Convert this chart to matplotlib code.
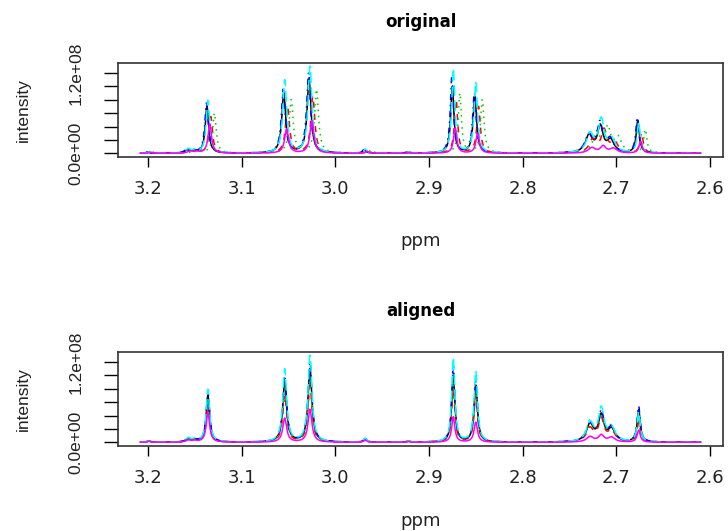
import matplotlib.pyplot as plt
import numpy as np

plt.close('all')

# PPM RANGE OF THE SPECTRA
ppm_first = 3.208
ppm_last = 2.610
ppm_step = 0.0004

# PEAKS (position in ppm, half width in ppm)
peak_ppm = [3.199, 3.157, 3.150, 3.136, 3.054, 3.027, 2.968, 2.922,
            2.874, 2.850, 2.728, 2.716, 2.705, 2.676]
peak_hw = [0.002, 0.003, 0.003, 0.0022, 0.0025, 0.0025, 0.002, 0.002,
           0.002, 0.0022, 0.0045, 0.0035, 0.0045, 0.002]

# PEAK HEIGHTS PER SAMPLE (1e7)
h_black = [0.2, 0.4, 0.3, 7.0, 9.0, 11.0, 0.5, 0.15, 10.0, 8.5, 2.6, 3.8, 1.8, 4.8]
h_red = [0.2, 0.4, 0.3, 5.5, 7.0, 8.5, 0.4, 0.15, 8.0, 7.0, 2.0, 3.3, 1.6, 3.0]
h_green = [0.2, 0.4, 0.3, 6.0, 8.0, 9.5, 0.5, 0.15, 9.0, 8.0, 3.0, 3.6, 2.2, 3.5]
h_blue = [0.2, 0.5, 0.3, 7.5, 9.5, 12.0, 0.5, 0.15, 11.5, 9.0, 2.6, 4.3, 2.0, 5.3]
h_cyan = [0.2, 0.6, 0.4, 7.9, 10.9, 13.0, 0.6, 0.15, 12.6, 10.6, 2.8, 4.8, 2.0, 4.5]
h_magenta = [0.15, 0.3, 0.2, 4.4, 3.6, 4.9, 0.3, 0.1, 3.8, 3.0, 0.8, 1.0, 0.7, 1.8]

# SHIFT OF EACH SAMPLE BEFORE ALIGNMENT (ppm)
shift_original = [0.001, -0.003, -0.007, 0.0015, 0.0, -0.002]

cores = ['black', 'red', '#00CD00', 'blue', 'cyan', 'magenta']
tipos = ['-', (0, (4, 4)), (0, (1, 3)), (0, (1, 3, 4, 3)), (0, (7, 3)), '-']

alturas = [h_black, h_red, h_green, h_blue, h_cyan, h_magenta]
ppm = np.arange(ppm_first, ppm_last, -ppm_step)


def espectro(alt, desloc):
    y = np.zeros_like(ppm)
    for p, w, h in zip(peak_ppm, peak_hw, alt):
        y += h * 1e7 * w**2 / ((ppm - p - desloc)**2 + w**2)
    return y


def painel(ax, titulo, deslocs, y_ppm):
    for alt, d, c, t in zip(alturas, deslocs, cores, tipos):
        ax.plot(ppm, espectro(alt, d), color=c, linestyle=t, lw=1.1)
    ax.set_xlim(3.232, 2.586)
    ax.set_ylim(-5.5e6, 1.35e8)
    ax.set_xticks([3.2, 3.1, 3.0, 2.9, 2.8, 2.7, 2.6])
    ax.set_xticklabels(['3.2', '3.1', '3.0', '2.9', '2.8', '2.7', '2.6'],
                       fontsize=13, family='DejaVu Sans', color='#222222')
    ax.set_yticks(np.arange(0, 1.21e8, 2e7))
    ax.set_yticklabels(['0.0e+00', '', '', '', '', '', '1.2e+08'],
                       rotation=90, va='center', fontsize=12.5,
                       family='Liberation Sans', color='#222222')
    ax.tick_params(axis='x', length=7.5, width=1, pad=9)
    ax.tick_params(axis='y', length=10, width=1, pad=15)
    for s in ax.spines.values():
        s.set_linewidth(1.2)
        s.set_color('#333333')
    ax.set_title(titulo, fontsize=12, fontweight='bold', family='DejaVu Sans', pad=26)
    ax.set_xlabel('ppm', fontsize=13, family='DejaVu Sans', color='#222222')
    ax.xaxis.set_label_coords(0.5, y_ppm)
    ax.xaxis.label.set_va('baseline')
    ax.set_ylabel('intensity', fontsize=12.5, family='Liberation Sans', color='#222222')
    ax.yaxis.label.set_rotation_mode('default')
    ax.yaxis.label.set_va('center')
    ax.yaxis.set_label_coords(-0.157, 0.5)


fig = plt.figure(figsize=(7.28, 5.31), dpi=100)
ax1 = fig.add_axes([118/728, 1 - 157/531, 605/728, 94/531])
ax2 = fig.add_axes([118/728, 1 - 446/531, 605/728, 94/531])

painel(ax1, 'original', shift_original, -(246 - 157) / 94)
painel(ax2, 'aligned', [0.0] * 6, -(526 - 446) / 94)

fig.savefig('out.png', dpi=100)
